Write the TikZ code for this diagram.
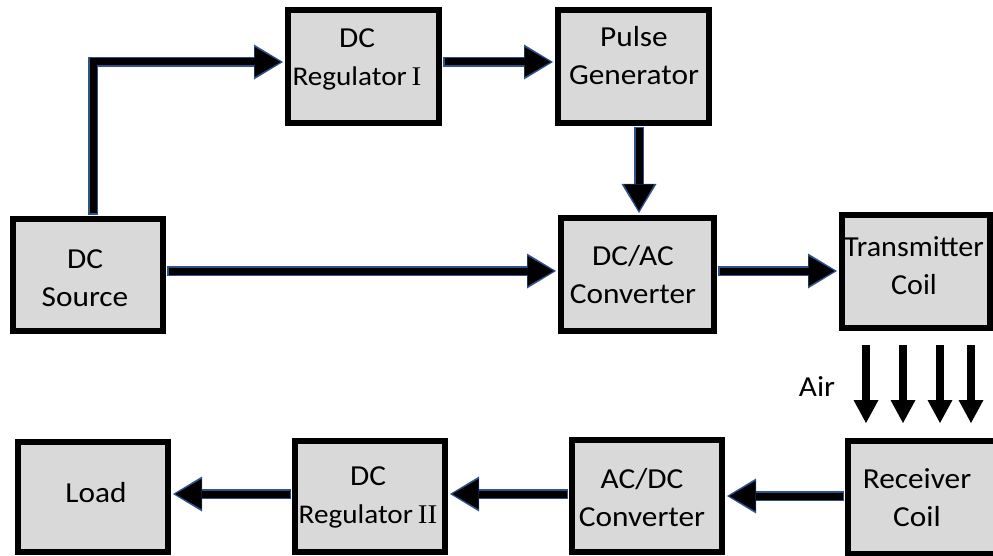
\documentclass[tikz,border=0pt]{standalone}
\usepackage{fontspec}
\setmainfont{Carlito}
\newfontfamily\romanI{Liberation Serif}
\usetikzlibrary{arrows.meta}
\definecolor{boxgray}{HTML}{D9D9D9}
\definecolor{arrowblue}{HTML}{2F528F}
\newcommand\TwoLines[2]{\begin{tabular}[t]{@{}c@{}}#1\\#2\end{tabular}}
\newcommand\RegLine[1]{{\fontsize{27}{38}\selectfont Regulator\,{\romanI #1}}}
\tikzset{
  box/.style={draw=black, line width=6pt, fill=boxgray, inner sep=0pt, rectangle},
  lbl/.style={font=\fontsize{29}{38}\selectfont, inner sep=0pt, anchor=base, xscale=1.08},
  blkout/.style={draw=arrowblue, line width=10pt, line join=miter,
    -{Triangle[length=29pt,width=35pt,line width=0pt]}, shorten >=2pt, shorten <=1pt},
  blkin/.style={draw=black, line width=7pt, line join=miter,
    -{Triangle[length=26pt,width=30pt,line width=0pt]}, shorten >=4.5pt, shorten <=2.5pt},
  airarrow/.style={draw=black, line width=8pt, -{Triangle[length=23pt,width=25pt,line width=0pt]}}
}
\newcommand\blk[1]{\draw[blkout] #1; \draw[blkin] #1;}
\begin{document}
\begin{tikzpicture}[x=1pt,y=-1pt]
\useasboundingbox (0,0) rectangle (993,556);
\clip (0,0) rectangle (993,556);
% boxes
\node[box, minimum width=151pt, minimum height=113pt] (regI)  at (363.5,66.5) {};
\node[box, minimum width=151pt, minimum height=113pt] (pulse) at (633.5,66.5) {};
\node[box, minimum width=150pt, minimum height=112pt] (src)   at (88,275) {};
\node[box, minimum width=153pt, minimum height=113pt] (dcac)  at (637.5,274.5) {};
\node[box, minimum width=148pt, minimum height=113pt] (tx)    at (916,271.5) {};
\node[box, minimum width=152pt, minimum height=113pt] (rx)    at (924,497.5) {};
\node[box, minimum width=150pt, minimum height=110pt] (load)  at (93,497) {};
\node[box, minimum width=150pt, minimum height=111pt] (regII) at (370,496.5) {};
\node[box, minimum width=150pt, minimum height=112pt] (acdc)  at (647,496) {};
% labels
\node[lbl] (regIT)  at (357,48)  {\TwoLines{DC}{\RegLine{I}}};
\node[lbl] (pulseT) at (634,47)  {\TwoLines{Pulse}{Generator}};
\node[lbl] (srcT)   at (85,268)  {\TwoLines{DC}{Source}};
\node[lbl] (dcacT)  at (633,265) {\TwoLines{DC/AC}{Converter}};
\node[lbl, xscale=0.96] (txT) at (914,256) {\TwoLines{Transmitter}{Coil}};
\node[lbl] (rxT)    at (917,488) {\TwoLines{Receiver}{Coil}};
\node[lbl] (acdcT)  at (642,488) {\TwoLines{AC/DC}{Converter}};
\node[lbl] (regIIT) at (368,485) {\TwoLines{DC}{\RegLine{II}}};
\node[lbl] (loadT)  at (96,502)  {Load};
\node[lbl] (airT)   at (817,396) {Air};
% block arrows
\blk{([xshift=5pt]src.north) |- ([yshift=4.5pt]regI.west)}
\blk{([yshift=4.5pt]regI.east) -- ([yshift=4.5pt]pulse.west)}
\blk{([xshift=1.5pt]dcac.north |- pulse.south) -- ([xshift=1.5pt]dcac.north)}
\blk{([yshift=4pt]src.east) -- ([yshift=4pt]src.east -| dcac.west)}
\blk{([yshift=3.5pt]dcac.east) -- ([yshift=3.5pt]dcac.east -| tx.west)}
\blk{([yshift=1.5pt]rx.west) -- ([yshift=1.5pt]rx.west -| acdc.east)}
\blk{([yshift=2pt]acdc.west) -- ([yshift=2pt]acdc.west -| regII.east)}
\blk{([yshift=2.5pt]regII.west) -- ([yshift=2.5pt]regII.west -| load.east)}
% air arrows
\coordinate (a1s) at (866,345); \coordinate (a1e) at (866,423);
\coordinate (a2s) at (903,345); \coordinate (a2e) at (903,423);
\coordinate (a3s) at (940,345); \coordinate (a3e) at (940,423);
\coordinate (a4s) at (971,345); \coordinate (a4e) at (971,423);
\draw[airarrow] (a1s) -- (a1e);
\draw[airarrow] (a2s) -- (a2e);
\draw[airarrow] (a3s) -- (a3e);
\draw[airarrow] (a4s) -- (a4e);
\end{tikzpicture}
\end{document}
